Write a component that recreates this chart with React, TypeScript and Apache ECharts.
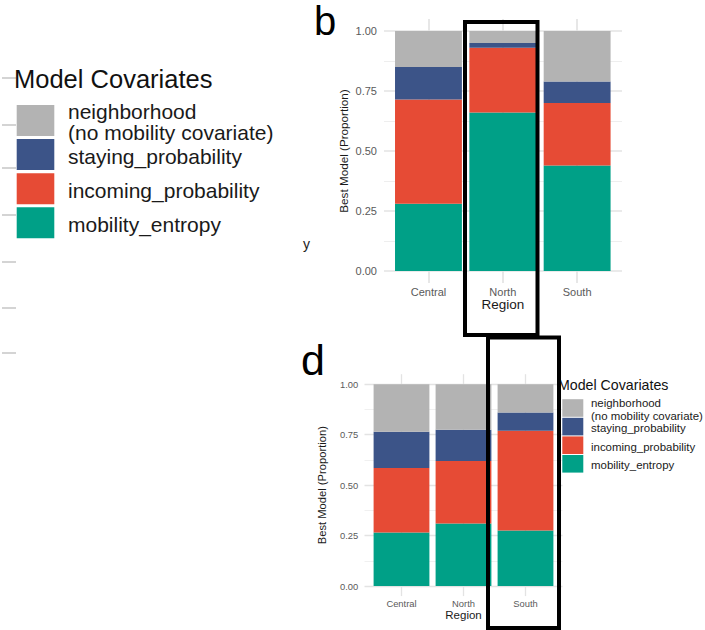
import React, { useEffect, useRef } from 'react';
import * as echarts from 'echarts';

// ---------- data ----------
const categories = ['Central', 'North', 'South'];
const covariateKeys = ['mobility_entropy', 'incoming_probability', 'staying_probability', 'neighborhood'];
const covariateColors = ['#00A087', '#E64B35', '#3C5488', '#B3B3B3'];
const legendOrder = ['neighborhood', 'staying_probability', 'incoming_probability', 'mobility_entropy'];
const legendLabels = ['neighborhood\n(no mobility covariate)', 'staying_probability', 'incoming_probability', 'mobility_entropy'];
const yTickLabels = ['0.00', '0.25', '0.50', '0.75', '1.00'];

// panel b
const bEntropy = [0.28, 0.66, 0.44];
const bIncoming = [0.435, 0.27, 0.26];
const bStaying = [0.135, 0.02, 0.09];
const bNeighborhood = [0.15, 0.05, 0.21];

// panel d
const dEntropy = [0.265, 0.31, 0.275];
const dIncoming = [0.32, 0.31, 0.495];
const dStaying = [0.18, 0.155, 0.09];
const dNeighborhood = [0.235, 0.225, 0.14];

const FONT = 'Liberation Sans, Arial, Helvetica, sans-serif';

type Panel = {
  hLeft: number; hRight: number; top: number; bottom: number;
  vTop: number; vBottom: number; barLeft: number; barRight: number;
  tickFont: number; yTitleFont: number; xTitleFont: number;
  xLabelMargin: number; yLabelMargin: number; xNameGap: number; yNameGap: number;
  majorW: number; minorW: number;
};

const panelB: Panel = {
  hLeft: 384, hRight: 622, top: 31, bottom: 271, vTop: 19, vBottom: 283,
  barLeft: 391.3, barRight: 614.3, tickFont: 11, yTitleFont: 11.7, xTitleFont: 13.5,
  xLabelMargin: 15, yLabelMargin: 14.3, xNameGap: 25.5, yNameGap: 41.5, majorW: 1.7, minorW: 1.2,
};
const panelD: Panel = {
  hLeft: 364.5, hRight: 562.5, top: 384.3, bottom: 586, vTop: 374.2, vBottom: 596.1,
  barLeft: 370.5, barRight: 556.5, tickFont: 9.4, yTitleFont: 11.2, xTitleFont: 11.5,
  xLabelMargin: 12.6, yLabelMargin: 12.2, xNameGap: 21, yNameGap: 43.3, majorW: 1.3, minorW: 0.9,
};

function buildPanel(p: Panel, g0: number, values: number[][], stack: string) {
  const band = (p.barRight - p.barLeft) / categories.length;
  const grid = [
    { left: p.hLeft, top: p.top, width: p.hRight - p.hLeft, height: p.bottom - p.top, outerBoundsMode: 'none' },
    { left: p.barLeft + band / 2, top: p.vTop, width: p.barRight - p.barLeft - band, height: p.vBottom - p.vTop, outerBoundsMode: 'none' },
    { left: p.barLeft, top: p.top, width: p.barRight - p.barLeft, height: p.bottom - p.top, outerBoundsMode: 'none' },
  ];
  const gridColor = '#E3E3E3';
  const minorColor = '#EEEEEE';
  const xAxis = [
    { gridIndex: g0, type: 'value', show: false, min: 0, max: 1 },
    {
      gridIndex: g0 + 1, type: 'value', min: 0, max: categories.length - 1, interval: 1,
      axisLine: { show: false }, axisTick: { show: false }, axisLabel: { show: false },
      splitLine: { show: true, lineStyle: { color: gridColor, width: p.majorW } },
    },
    {
      gridIndex: g0 + 2, type: 'category', data: categories,
      axisLine: { show: false }, axisTick: { show: false }, splitLine: { show: false },
      axisLabel: { fontSize: p.tickFont, color: '#5A5A5A', fontFamily: FONT, margin: p.xLabelMargin },
      name: 'Region', nameLocation: 'middle', nameGap: p.xNameGap,
      nameTextStyle: { fontSize: p.xTitleFont, color: '#1A1A1A', fontFamily: FONT },
    },
  ];
  const yAxis = [
    {
      gridIndex: g0, type: 'value', min: 0, max: 1, interval: 0.25,
      axisLine: { show: false }, axisTick: { show: false }, axisLabel: { show: false },
      splitLine: { show: true, lineStyle: { color: gridColor, width: p.majorW } },
      minorTick: { show: false, splitNumber: 2 },
      minorSplitLine: { show: true, lineStyle: { color: minorColor, width: p.minorW } },
    },
    { gridIndex: g0 + 1, type: 'value', show: false, min: 0, max: 1 },
    {
      gridIndex: g0 + 2, type: 'value', min: 0, max: 1, interval: 0.25,
      axisLine: { show: false }, axisTick: { show: false }, splitLine: { show: false },
      axisLabel: {
        fontSize: p.tickFont, color: '#5A5A5A', fontFamily: FONT, margin: p.yLabelMargin,
        formatter: (v: number) => yTickLabels[Math.round(v / 0.25)],
      },
      name: 'Best Model (Proportion)', nameLocation: 'middle', nameRotate: 90, nameGap: p.yNameGap,
      nameTextStyle: { fontSize: p.yTitleFont, color: '#1A1A1A', fontFamily: FONT },
    },
  ];
  const series = covariateKeys.map((k, i) => ({
    type: 'bar', name: k, stack, xAxisIndex: g0 + 2, yAxisIndex: g0 + 2,
    data: values[i], barCategoryGap: '10%', silent: true,
    itemStyle: { color: covariateColors[i] },
    emphasis: { disabled: true },
  }));
  return { grid, xAxis, yAxis, series };
}

function legendGraphics(opts: {
  titleX: number; titleY: number; titleFont: number; keyX: number; keyW: number; keyTop: number;
  keyH: number; pitch: number; textX: number; textFont: number; lineH: number; textDy: number;
}) {
  const els: any[] = [
    {
      type: 'text', x: opts.titleX, y: opts.titleY, z: 50,
      style: { text: 'Model Covariates', fontSize: opts.titleFont, fontFamily: FONT, fill: '#111', align: 'left', verticalAlign: 'middle' },
    },
  ];
  legendOrder.forEach((k, i) => {
    const color = covariateColors[covariateKeys.indexOf(k)];
    const y = opts.keyTop + i * opts.pitch;
    els.push({
      type: 'rect', z: 50, shape: { x: opts.keyX, y, width: opts.keyW, height: opts.keyH },
      style: { fill: color },
    });
    els.push({
      type: 'text', x: opts.textX, y: y + opts.keyH / 2 + opts.textDy, z: 50,
      style: {
        text: legendLabels[i], fontSize: opts.textFont, lineHeight: opts.lineH, fontFamily: FONT,
        fill: '#1A1A1A', align: 'left', verticalAlign: 'middle',
      },
    });
  });
  return els;
}

export default function App() {
  const ref = useRef<HTMLDivElement>(null);
  useEffect(() => {
    const chart = echarts.init(ref.current!, null, { renderer: 'svg' });
    const pb = buildPanel(panelB, 0, [bEntropy, bIncoming, bStaying, bNeighborhood], 'b');
    const pd = buildPanel(panelD, 3, [dEntropy, dIncoming, dStaying, dNeighborhood], 'd');

    const leftTicks = [78, 125, 168, 215, 262, 308, 353];
    const graphic: any[] = [
      ...leftTicks.map((y) => ({
        type: 'line', z: 10, shape: { x1: 2, y1: y, x2: 16, y2: y },
        style: { stroke: '#D4D4D4', lineWidth: 2 },
      })),
      ...legendGraphics({
        titleX: 14, titleY: 78.5, titleFont: 25.5, keyX: 16.7, keyW: 37.6, keyTop: 105, keyH: 31,
        pitch: 34.1, textX: 68, textFont: 21, lineH: 21.2, textDy: 1.8,
      }),
      ...legendGraphics({
        titleX: 558, titleY: 385, titleFont: 14.2, keyX: 562.3, keyW: 21, keyTop: 399.2, keyH: 17.6,
        pitch: 18.6, textX: 591, textFont: 11.45, lineH: 12.4, textDy: 1.6,
      }),
      { type: 'text', x: 314, y: 21, z: 50, style: { text: 'b', fontSize: 40, lineHeight: 38, fontFamily: FONT, fill: '#000', align: 'left', verticalAlign: 'middle' } },
      { type: 'text', x: 301, y: 360, z: 50, style: { text: 'd', fontSize: 43, fontFamily: FONT, fill: '#000', align: 'left', verticalAlign: 'middle' } },
      { type: 'text', x: 303, y: 244, z: 50, style: { text: 'y', fontSize: 14, fontFamily: FONT, fill: '#222', align: 'left', verticalAlign: 'middle' } },
      {
        type: 'rect', z: 100, shape: { x: 465, y: 22, width: 72.5, height: 313 },
        style: { fill: 'none', stroke: '#000', lineWidth: 4 },
      },
      {
        type: 'rect', z: 100, shape: { x: 488, y: 337.5, width: 71, height: 290.5 },
        style: { fill: 'none', stroke: '#000', lineWidth: 4 },
      },
    ];

    chart.setOption({
      animation: false,
      backgroundColor: '#ffffff',
      grid: [...pb.grid, ...pd.grid],
      xAxis: [...pb.xAxis, ...pd.xAxis],
      yAxis: [...pb.yAxis, ...pd.yAxis],
      series: [...pb.series, ...pd.series],
      graphic,
    });
    return () => chart.dispose();
  }, []);
  return (
    <div
      ref={ref}
      style={{ position: 'absolute', left: 0, top: 0, width: 705, height: 630, background: '#fff' }}
    />
  );
}
